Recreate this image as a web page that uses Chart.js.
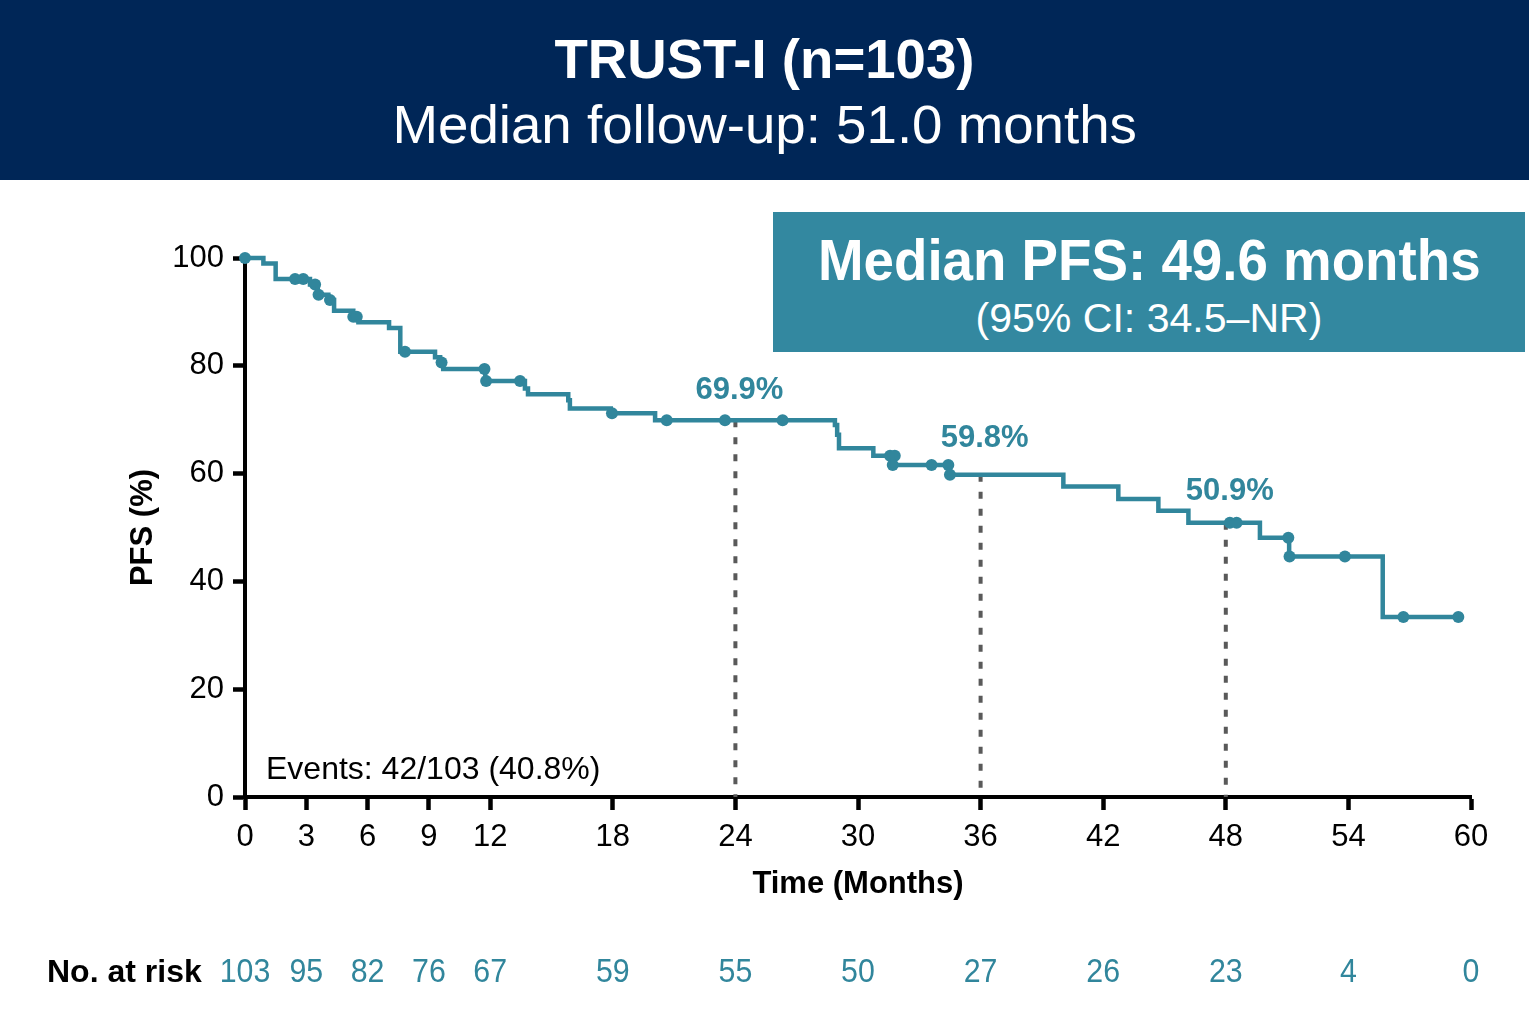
<!DOCTYPE html>
<html lang="en">
<head>
    <meta charset="UTF-8">
    <title>TRUST-I PFS</title>
    <script src="https://cdn.jsdelivr.net/npm/chart.js"></script>
    <style>
        body {
            margin: 0;
            background: #fff;
            font-family: "Liberation Sans", Arial, sans-serif;
        }
        #page {
            position: relative;
            width: 1529px;
            height: 1009px;
            overflow: hidden;
        }
        #kmChart {
            position: absolute;
            left: 0;
            top: 0;
        }
        .header {
            position: absolute;
            left: 0;
            top: 0;
            width: 1529px;
            height: 180px;
            background: #002657;
        }
        .box {
            position: absolute;
            left: 773px;
            top: 212px;
            width: 752px;
            height: 140px;
            background: #3388a0;
        }
        .line {
            position: absolute;
            left: 0;
            width: 100%;
            text-align: center;
            color: #fff;
            line-height: 1;
            white-space: nowrap;
        }
        .line span {
            display: inline-block;
            transform-origin: center;
        }
    </style>
</head>
<body>
<div id="page">
    <canvas id="kmChart" width="1529" height="1009"></canvas>
    <div class="header">
        <div class="line" style="top:31px;font-size:56px;font-weight:bold"><span id="t1">TRUST-I (n=103)</span></div>
        <div class="line" style="top:97px;font-size:54px"><span id="t2">Median follow-up: 51.0 months</span></div>
    </div>
    <div class="box">
        <div class="line" style="top:19px;font-size:58px;font-weight:bold"><span id="b1">Median PFS: 49.6 months</span></div>
        <div class="line" style="top:86px;font-size:40px"><span id="b2">(95% CI: 34.5–NR)</span></div>
    </div>
</div>

<script>
    // Kaplan-Meier PFS, values (months, %)
    const kmTime = [0, 0.9, 1.5, 3.18, 3.56, 4.08, 4.36, 5.3, 5.55, 7.05, 7.6, 9.3, 9.55, 9.7, 11.76,
        13.7, 13.85, 15.82, 15.9, 17.9, 20.07, 28.87, 28.98, 29.07, 30.75, 31.7, 34.47,
        40.05, 42.74, 44.7, 46.17, 49.67, 51.1, 55.68, 59.4];
    const kmSurv = [100, 99.0, 96.1, 95.1, 93.2, 92.2, 90.2, 89.1, 88.1, 87.0, 82.6, 81.6, 80.6, 79.4, 77.2,
        75.8, 74.7, 73.6, 72.1, 71.2, 69.9, 69.0, 67.2, 64.7, 63.3, 61.6, 59.8,
        57.6, 55.3, 53.1, 50.9, 48.1, 44.6, 33.4, 33.4];

    // censored patients
    const censorTime = [0, 2.45, 2.85, 3.43, 3.6, 4.16, 5.3, 5.47, 7.83, 9.62, 11.72, 11.8, 13.46, 17.96,
        20.64, 23.49, 26.31, 31.57, 31.8, 31.7, 33.6, 34.42, 34.5,
        48.2, 48.53, 51.06, 51.12, 53.83, 56.69, 59.38];
    const censorSurv = [100, 96.1, 96.1, 95.1, 93.2, 92.2, 89.1, 89.1, 82.6, 80.6, 79.4, 77.2, 77.2, 71.2,
        69.9, 69.9, 69.9, 63.3, 63.3, 61.6, 61.6, 61.6, 59.8,
        50.9, 50.9, 48.1, 44.6, 44.6, 33.4, 33.4];

    // landmark estimates
    const landmarkTime = [24, 36, 48];
    const landmarkSurv = [69.9, 59.8, 50.9];
    const landmarkLabel = ["69.9%", "59.8%", "50.9%"];
    const labelLift = [21, 28, 23]; // px above the curve

    const xTicks = [0, 3, 6, 9, 12, 18, 24, 30, 36, 42, 48, 54, 60];
    const atRisk = [103, 95, 82, 76, 67, 59, 55, 50, 27, 26, 23, 4, 0];

    const TEAL = "#31869c";
    const FONT = "'Liberation Sans', Arial, sans-serif";

    // растягиваем/сжимаем заголовки под ширину оригинала
    function fitText(id, w) {
        const el = document.getElementById(id);
        el.style.transform = "scaleX(" + (w / el.offsetWidth) + ")";
    }
    fitText("t1", 420);
    fitText("t2", 744);
    fitText("b1", 663);
    fitText("b2", 347);

    const datasets = [{
        label: "PFS",
        data: kmTime.map((t, i) => ({x: t, y: kmSurv[i]})),
        borderColor: TEAL,
        borderWidth: 4.5,
        stepped: "before",
        pointRadius: 0,
        fill: false,
        clip: false
    }, {
        label: "Censored",
        data: censorTime.map((t, i) => ({x: t, y: censorSurv[i]})),
        showLine: false,
        pointRadius: 6,
        pointBackgroundColor: TEAL,
        pointBorderWidth: 0,
        clip: false
    }];

    // пунктир на 24, 36, 48 месяцах
    landmarkTime.forEach((t, i) => {
        datasets.push({
            label: "landmark" + t,
            data: [{x: t, y: landmarkSurv[i]}, {x: t, y: 0}],
            borderColor: "#595959",
            borderWidth: 4,
            borderDash: [7, 10],
            pointRadius: 0,
            order: 5
        });
    });

    const annotations = {
        id: "annotations",
        afterDraw(chart) {
            const ctx = chart.ctx;
            const x = chart.scales.x;
            const y = chart.scales.y;
            ctx.save();

            ctx.fillStyle = TEAL;
            ctx.font = "bold 31px " + FONT;
            ctx.textAlign = "center";
            ctx.textBaseline = "alphabetic";
            landmarkTime.forEach((t, i) => {
                ctx.fillText(landmarkLabel[i], x.getPixelForValue(t) + 4, y.getPixelForValue(landmarkSurv[i]) - labelLift[i]);
            });

            ctx.fillStyle = "#000";
            ctx.font = "32px " + FONT;
            ctx.textAlign = "left";
            ctx.fillText("Events: 42/103 (40.8%)", chart.chartArea.left + 21, chart.chartArea.bottom - 18);

            // No. at risk
            ctx.font = "bold 32px " + FONT;
            ctx.fillText("No. at risk", 47, 982);
            ctx.fillStyle = TEAL;
            ctx.font = "33px " + FONT;
            ctx.textAlign = "center";
            xTicks.forEach((t, i) => {
                const txt = String(atRisk[i]);
                ctx.fillText(txt, x.getPixelForValue(t), 982, ctx.measureText(txt).width * 0.92);
            });
            ctx.restore();
        }
    };

    new Chart(document.getElementById("kmChart"), {
        type: "line",
        data: {datasets: datasets},
        options: {
            responsive: false,
            animation: false,
            devicePixelRatio: 1,
            layout: {padding: {left: 110, right: 58, top: 258, bottom: 104}},
            plugins: {
                legend: {display: false},
                tooltip: {enabled: false}
            },
            scales: {
                x: {
                    type: "linear",
                    min: 0,
                    max: 60,
                    afterBuildTicks: s => { s.ticks = xTicks.map(v => ({value: v})); },
                    afterFit: s => { s.height = 108; },
                    ticks: {color: "#000", font: {family: FONT, size: 31}, padding: 9, maxRotation: 0, autoSkip: false},
                    grid: {drawOnChartArea: false, drawTicks: true, tickLength: 13, tickWidth: 4.5, tickColor: "#000"},
                    border: {display: true, color: "#000", width: 4},
                    title: {display: true, text: "Time (Months)", color: "#000", font: {family: FONT, size: 31, weight: "bold"}, padding: {top: 0, bottom: 2}}
                },
                y: {
                    min: 0,
                    max: 100,
                    afterFit: s => { s.width = 135; },
                    ticks: {stepSize: 20, color: "#000", font: {family: FONT, size: 31}, padding: 9},
                    grid: {drawOnChartArea: false, drawTicks: true, tickLength: 12, tickWidth: 4.5, tickColor: "#000"},
                    border: {display: true, color: "#000", width: 4},
                    title: {display: true, text: "PFS (%)", color: "#000", font: {family: FONT, size: 31, weight: "bold"}, padding: {top: 15, bottom: 0}}
                }
            }
        },
        plugins: [annotations]
    });
</script>
</body>
</html>
